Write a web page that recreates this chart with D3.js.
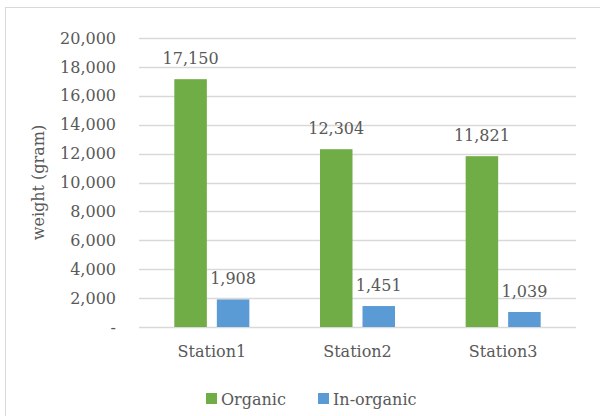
<!DOCTYPE html>
<html>
<head>
<meta charset="utf-8">
<script src="https://cdn.jsdelivr.net/npm/d3@7/dist/d3.min.js"></script>
<style>
  html, body { margin: 0; padding: 0; background: #fff; }
  svg { display: block; }
  text { font-family: "DejaVu Serif", "Liberation Serif", serif; fill: #595959; }
</style>
</head>
<body>
<svg id="chart" width="600" height="416"></svg>
<script>
// Waste weight per station, split by type
const categories = ["Station1", "Station2", "Station3"];
const seriesNames = ["Organic", "In-organic"];
const organic = [17150, 12304, 11821];
const inorganic = [1908, 1451, 1039];
const yTicks = [0, 2000, 4000, 6000, 8000, 10000, 12000, 14000, 16000, 18000, 20000];
const colors = ["#70AD47", "#5B9BD5"];

const svg = d3.select("#chart");
const W = 600, H = 416;
const FS = 16;

// Chart frame
svg.append("rect")
  .attr("x", 5.5).attr("y", 7.5)
  .attr("width", W + 10).attr("height", H + 10)
  .attr("fill", "#fff").attr("stroke", "#d9d9d9").attr("stroke-width", 1);

const plot = { left: 139, right: 576, top: 38, bottom: 327 };

const x = d3.scaleBand()
  .domain(categories)
  .range([plot.left, plot.right])
  .paddingInner(0).paddingOuter(0);

const x1 = d3.scaleBand()
  .domain(seriesNames)
  .range([0, x.bandwidth()])
  .paddingInner(0.235)
  .paddingOuter(0.831);

const y = d3.scaleLinear()
  .domain([0, 20000])
  .range([plot.bottom, plot.top]);

const fmt = d3.format(",");

// Gridlines
svg.append("g")
  .selectAll("line")
  .data(yTicks)
  .join("line")
  .attr("x1", plot.left).attr("x2", plot.right)
  .attr("y1", d => Math.round(y(d)) + 0.5)
  .attr("y2", d => Math.round(y(d)) + 0.5)
  .attr("stroke", "#d9d9d9").attr("stroke-width", 1.3);

// Y axis tick labels
const yAxis = d3.axisLeft(y)
  .tickValues(yTicks)
  .tickSize(0)
  .tickPadding(0)
  .tickFormat(d => d === 0 ? "-" : fmt(d));
const yg = svg.append("g")
  .attr("transform", `translate(116,0)`)
  .call(yAxis);
yg.select(".domain").remove();
yg.selectAll("text")
  .attr("font-size", FS)
  .attr("fill", "#595959")
  .style("font-family", '"DejaVu Serif", serif');

// Y axis title
svg.append("text")
  .attr("transform", `translate(44,${(plot.top + plot.bottom) / 2}) rotate(-90)`)
  .attr("text-anchor", "middle")
  .attr("font-size", FS)
  .text("weight (gram)");

// Bars
const rows = categories.map((c, i) => ({ cat: c, vals: [organic[i], inorganic[i]] }));
const groups = svg.append("g")
  .selectAll("g")
  .data(rows)
  .join("g")
  .attr("transform", d => `translate(${x(d.cat)},0)`);

groups.selectAll("rect")
  .data(d => d.vals.map((v, j) => ({ name: seriesNames[j], v, j })))
  .join("rect")
  .attr("x", d => x1(d.name))
  .attr("width", x1.bandwidth())
  .attr("y", d => y(d.v))
  .attr("height", d => y(0) - y(d.v))
  .attr("fill", d => colors[d.j]);

// Value labels
groups.selectAll("text.val")
  .data(d => d.vals.map((v, j) => ({ name: seriesNames[j], v, j })))
  .join("text")
  .attr("class", "val")
  .attr("x", d => x1(d.name) + x1.bandwidth() / 2)
  .attr("y", d => y(d.v) - 15)
  .attr("text-anchor", "middle")
  .attr("font-size", FS)
  .text(d => fmt(d.v));

// Category labels
const xAxis = d3.axisBottom(x).tickSize(0).tickPadding(0);
const xg = svg.append("g")
  .attr("transform", `translate(0,${plot.bottom})`)
  .call(xAxis);
xg.select(".domain").remove();
xg.selectAll("text")
  .attr("y", 30)
  .attr("dy", null)
  .attr("font-size", FS)
  .attr("fill", "#595959")
  .style("font-family", '"DejaVu Serif", serif');

// Legend
const legendItems = [
  { name: seriesNames[0], color: colors[0], x: 206 },
  { name: seriesNames[1], color: colors[1], x: 318 }
];
const lg = svg.append("g");
lg.selectAll("rect")
  .data(legendItems)
  .join("rect")
  .attr("x", d => d.x).attr("y", 393)
  .attr("width", 11).attr("height", 11)
  .attr("fill", d => d.color);
lg.selectAll("text")
  .data(legendItems)
  .join("text")
  .attr("x", d => d.x + 15).attr("y", 405)
  .attr("font-size", FS)
  .text(d => d.name);
</script>
</body>
</html>
